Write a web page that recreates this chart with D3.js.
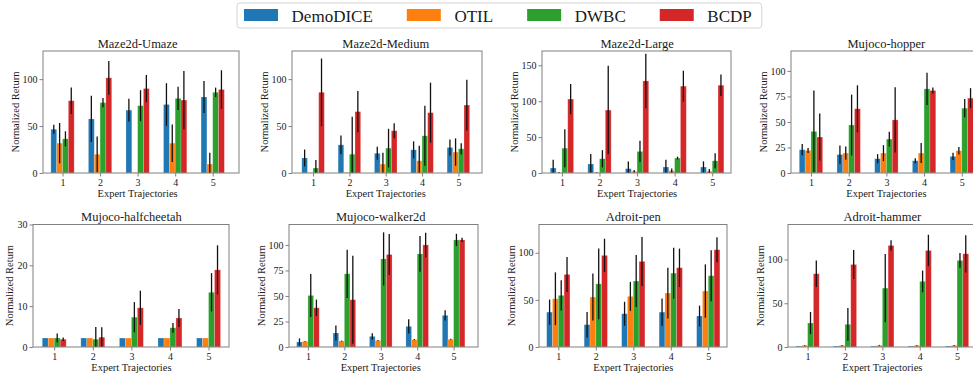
<!DOCTYPE html>
<html>
<head>
<meta charset="utf-8">
<script src="https://cdn.jsdelivr.net/npm/d3@7"></script>
<style>
    body { margin: 0; background: #fff; }
    svg { display: block; }
    svg text { font-family: "Liberation Serif", "Times New Roman", Times, serif !important; }
</style>
</head>
<body>
<svg id="chart" width="973" height="377"></svg>
<script>
const categories = [1, 2, 3, 4, 5];
const methods = ['DemoDICE', 'OTIL', 'DWBC', 'BCDP'];
const colors = ['#1f77b4', '#ff7f0e', '#2ca02c', '#d62728'];
const titles = ['Maze2d-Umaze', 'Maze2d-Medium', 'Maze2d-Large', 'Mujoco-hopper',
    'Mujoco-halfcheetah', 'Mujoco-walker2d', 'Adroit-pen', 'Adroit-hammer'];
const yTickLabels = [
    [0, 50, 100], [0, 50, 100], [0, 50, 100, 150], [0, 25, 50, 75, 100],
    [0, 10, 20, 30], [0, 25, 50, 75, 100], [0, 50, 100], [0, 50, 100]
];
const yMaxes = [130, 130, 170, 119.5, 30, 120, 130, 140];

// one row per method (DemoDICE, OTIL, DWBC, BCDP), one column per trajectory count
const umazeMean = [[46.6, 57.6, 67, 73, 81], [31.8, 20, 0.5, 31.8, 9.5], [36.4, 75, 71.7, 79.5, 86], [77, 101.4, 90, 77.7, 89]];
const umazeErr = [[4.8, 24.7, 12, 22.7, 17], [21.5, 19, 0, 20, 12], [8, 5, 16.5, 12.5, 5], [14, 18, 14.5, 31, 20.5]];
const mediumMean = [[16, 30, 21, 24.7, 27.2], [0.3, 0.5, 9.5, 13, 22.3], [5.3, 20, 26.5, 39.6, 25.8], [86, 65.4, 45, 64.3, 72.4]];
const mediumErr = [[9, 10, 7, 9, 8.5], [0, 0, 12, 16, 14.6], [8.5, 40, 20.6, 32, 6], [36, 22, 8, 32, 27]];
const largeMean = [[6.9, 12.5, 6, 8.3, 8.3], [0.5, 0.5, 2.3, 3.2, 2.5], [34.6, 19.8, 30, 20.8, 17], [103, 87.7, 128.3, 121, 122.3]];
const largeErr = [[11.5, 14, 10, 10, 8], [0.8, 0.5, 2, 3, 3], [26.5, 12, 14.8, 2, 10.4], [21, 61.6, 38, 21.5, 15]];
const hopperMean = [[22.8, 18, 14, 12, 16.3], [22.1, 19.5, 19.5, 19.5, 21.8], [40.7, 47, 33.2, 82.4, 63.5], [35.2, 62.9, 52, 80.8, 73.3]];
const hopperErr = [[5.5, 9, 4.5, 2.5, 3.5], [2.5, 6.5, 7.8, 9.8, 3.7], [40, 29.8, 7.3, 15.8, 9], [23, 23, 32, 3, 9.8]];
const cheetahMean = [[2.2, 2.2, 2.2, 2.2, 2.2], [2.2, 2.2, 2.2, 2.2, 2.2], [2.2, 1.9, 7.3, 4.7, 13.4], [1.9, 2.4, 9.6, 7.1, 18.9]];
const cheetahErr = [[0, 0, 0, 0, 0], [0, 0, 0, 0, 0], [1.1, 3, 3.7, 1.2, 4.7], [0.4, 2.45, 4.2, 2.2, 6]];
const walkerMean = [[4.9, 13.7, 10.4, 20.2, 31], [5.5, 5.9, 6.5, 7.2, 7.5], [50.5, 71.7, 86.3, 91.2, 104.9], [38.4, 46.3, 90.6, 100, 104.9]];
const walkerErr = [[3.5, 7.3, 3, 7, 5], [0.4, 0.4, 0.4, 0.5, 0.5], [21, 23.6, 26, 17.6, 6], [8, 43, 20, 12, 2]];
const penMean = [[37, 23.7, 35.3, 37, 32.9], [51.2, 53, 53.7, 57.2, 59.4], [54.8, 67, 70, 78.4, 75.6], [77, 97.2, 90.8, 84.1, 103.2]];
const penErr = [[13.4, 13.5, 12.7, 14.5, 11], [28, 25, 15.4, 27, 28.3], [16, 37.5, 27.6, 27, 27], [18.5, 17.7, 26, 20.3, 13.3]];
const hammerMean = [[1, 1, 1, 1, 1], [1.9, 1.9, 1.9, 1.9, 1.9], [27.4, 25.9, 67.3, 75, 98.9], [83.7, 94.3, 116, 110.3, 106.5]];
const hammerErr = [[0, 0, 0, 0, 0], [0.5, 0.5, 0.5, 0.5, 0.5], [12.7, 18.8, 39, 12.4, 8.4], [15.2, 16.5, 6, 18, 21.3]];

const allMeans = [umazeMean, mediumMean, largeMean, hopperMean, cheetahMean, walkerMean, penMean, hammerMean];
const allErrs = [umazeErr, mediumErr, largeErr, hopperErr, cheetahErr, walkerErr, penErr, hammerErr];

// pixel boxes of the axes and their x limits
const boxes = [
    { left: 43, right: 239, top: 51, bottom: 173, xDomain: [0.48, 5.7] },
    { left: 292, right: 482, top: 51, bottom: 173, xDomain: [0.42, 5.65] },
    { left: 542, right: 731, top: 51, bottom: 173, xDomain: [0.47, 5.5] },
    { left: 791, right: 978, top: 51, bottom: 173, xDomain: [0.47, 5.43] },
    { left: 33, right: 229, top: 224.5, bottom: 347, xDomain: [0.45, 5.53] },
    { left: 289, right: 478, top: 224.5, bottom: 347, xDomain: [0.48, 5.67] },
    { left: 539, right: 727, top: 224.5, bottom: 347, xDomain: [0.485, 5.5] },
    { left: 788, right: 978, top: 224.5, bottom: 347, xDomain: [0.475, 5.56] }
];

const FONT = '"Liberation Serif", "Times New Roman", Times, serif';
const SPINE = '#808080';
const TEXT = '#1a1a1a';
const barWidth = 0.155;

const svg = d3.select('#chart');

function drawPanel(p) {
    const box = boxes[p];
    const means = allMeans[p];
    const errs = allErrs[p];
    const g = svg.append('g');

    const x = d3.scaleLinear().domain(box.xDomain).range([box.left, box.right]);
    const y = d3.scaleLinear().domain([0, yMaxes[p]]).range([box.bottom, box.top]).clamp(true);
    const bw = x(barWidth) - x(0);

    const cells = methods.flatMap((m, k) => categories.map((c, i) => ({
        k: k,
        cx: x(c + (k - 1.5) * barWidth),
        v: means[k][i],
        e: errs[k][i]
    })));

    g.selectAll('rect.bar')
        .data(cells)
        .join('rect')
        .attr('class', 'bar')
        .attr('x', d => d.cx - bw / 2)
        .attr('width', bw)
        .attr('y', d => y(d.v))
        .attr('height', d => y(0) - y(d.v))
        .attr('fill', d => colors[d.k])
        .attr('stroke', '#fff')
        .attr('stroke-opacity', 0.3)
        .attr('stroke-width', 0.7);

    g.selectAll('line.err')
        .data(cells.filter(d => d.e > 0))
        .join('line')
        .attr('class', 'err')
        .attr('x1', d => d.cx)
        .attr('x2', d => d.cx)
        .attr('y1', d => y(d.v - d.e))
        .attr('y2', d => y(d.v + d.e))
        .attr('stroke', '#111')
        .attr('stroke-width', 1.3);

    const yAxis = g.append('g')
        .attr('transform', 'translate(' + box.left + ',0)')
        .call(d3.axisLeft(y).tickValues(yTickLabels[p]).tickFormat(d3.format('d')).tickSize(3.5).tickPadding(2));
    const xAxis = g.append('g')
        .attr('transform', 'translate(0,' + box.bottom + ')')
        .call(d3.axisBottom(x).tickValues(categories).tickFormat(d3.format('d')).tickSize(3.5).tickPadding(2));
    [yAxis, xAxis].forEach(a => {
        a.attr('font-family', FONT).attr('font-size', 10);
        a.select('.domain').remove();
        a.selectAll('line').attr('stroke', SPINE);
        a.selectAll('text').attr('fill', TEXT);
    });

    g.append('rect')
        .attr('x', box.left)
        .attr('y', box.top)
        .attr('width', box.right - box.left)
        .attr('height', box.bottom - box.top)
        .attr('fill', 'none')
        .attr('stroke', SPINE)
        .attr('stroke-width', 1);

    const mid = x(3);
    g.append('text')
        .attr('x', mid)
        .attr('y', box.top - 3.5)
        .attr('text-anchor', 'middle')
        .attr('font-size', 12.5)
        .attr('fill', TEXT)
        .text(titles[p]);

    g.append('text')
        .attr('x', mid)
        .attr('y', box.bottom + 23.5)
        .attr('text-anchor', 'middle')
        .attr('font-size', 10.5)
        .attr('fill', TEXT)
        .text('Expert Trajectories');

    const digits = d3.max(yTickLabels[p], t => String(t).length);
    const ly = box.left - (15.3 + 3.9 * digits);
    g.append('text')
        .attr('transform', 'translate(' + (ly + 3) + ',' + ((box.top + box.bottom) / 2) + ') rotate(-90)')
        .attr('text-anchor', 'middle')
        .attr('font-size', 10.5)
        .attr('fill', TEXT)
        .text('Normalized Return');
}

d3.range(8).forEach(drawPanel);

// legend
const legend = svg.append('g');
const legendFrame = legend.append('rect')
    .attr('y', 3)
    .attr('height', 25)
    .attr('rx', 3)
    .attr('fill', '#fff')
    .attr('stroke', '#d5d5d5')
    .attr('stroke-width', 1);
let lx = 244;
methods.forEach((m, k) => {
    legend.append('rect')
        .attr('x', lx)
        .attr('y', 9)
        .attr('width', 34)
        .attr('height', 12)
        .attr('fill', colors[k]);
    const t = legend.append('text')
        .attr('x', lx + 34 + 13.6)
        .attr('y', 21.5)
        .attr('font-size', 17)
        .attr('fill', TEXT)
        .text(m);
    lx = lx + 34 + 13.6 + t.node().getComputedTextLength() + 34;
});
legendFrame.attr('x', 237).attr('width', lx - 34 + 10 - 237);
</script>
</body>
</html>
